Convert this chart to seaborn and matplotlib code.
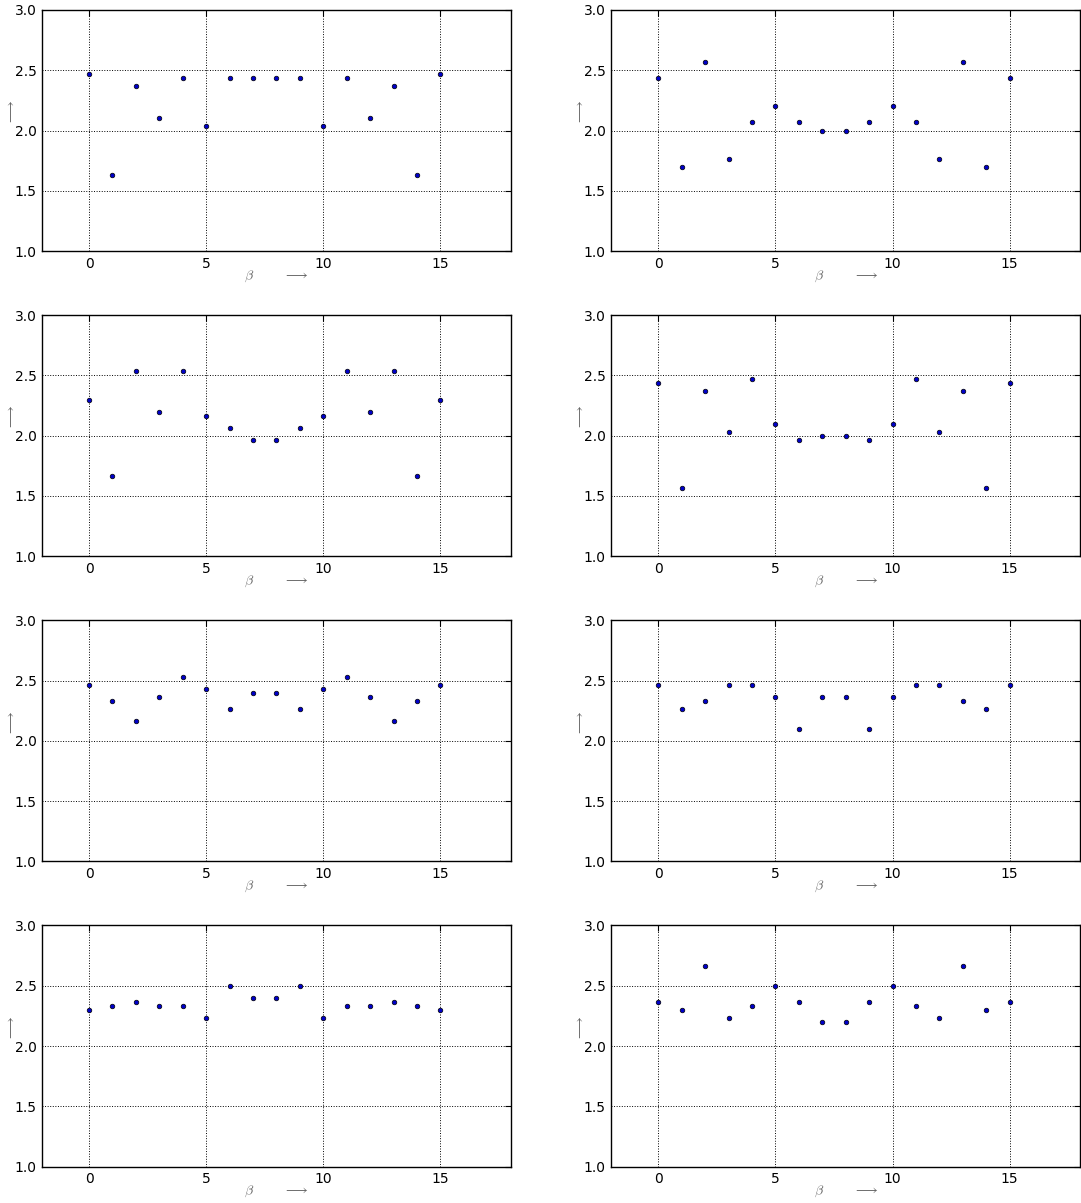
import matplotlib
matplotlib.use("Agg")
import matplotlib.pyplot as plt
import pandas as pd
import seaborn as sns

# Sample index along the horizontal axis
beta = list(range(16))

# One series per panel (row-major: left, right)
panel_1 = [2.4667, 1.6333, 2.3667, 2.1000, 2.4333, 2.0333, 2.4333, 2.4333,
           2.4333, 2.4333, 2.0333, 2.4333, 2.1000, 2.3667, 1.6333, 2.4667]
panel_2 = [2.4333, 1.7000, 2.5667, 1.7667, 2.0667, 2.2000, 2.0667, 2.0000,
           2.0000, 2.0667, 2.2000, 2.0667, 1.7667, 2.5667, 1.7000, 2.4333]
panel_3 = [2.3000, 1.6667, 2.5333, 2.2000, 2.5333, 2.1667, 2.0667, 1.9667,
           1.9667, 2.0667, 2.1667, 2.5333, 2.2000, 2.5333, 1.6667, 2.3000]
panel_4 = [2.4333, 1.5667, 2.3667, 2.0333, 2.4667, 2.1000, 1.9667, 2.0000,
           2.0000, 1.9667, 2.1000, 2.4667, 2.0333, 2.3667, 1.5667, 2.4333]
panel_5 = [2.4667, 2.3333, 2.1667, 2.3667, 2.5333, 2.4333, 2.2667, 2.4000,
           2.4000, 2.2667, 2.4333, 2.5333, 2.3667, 2.1667, 2.3333, 2.4667]
panel_6 = [2.4667, 2.2667, 2.3333, 2.4667, 2.4667, 2.3667, 2.1000, 2.3667,
           2.3667, 2.1000, 2.3667, 2.4667, 2.4667, 2.3333, 2.2667, 2.4667]
panel_7 = [2.3000, 2.3333, 2.3667, 2.3333, 2.3333, 2.2333, 2.5000, 2.4000,
           2.4000, 2.5000, 2.2333, 2.3333, 2.3333, 2.3667, 2.3333, 2.3000]
panel_8 = [2.3667, 2.3000, 2.6667, 2.2333, 2.3333, 2.5000, 2.3667, 2.2000,
           2.2000, 2.3667, 2.5000, 2.3333, 2.2333, 2.6667, 2.3000, 2.3667]

panels = [panel_1, panel_2, panel_3, panel_4, panel_5, panel_6, panel_7, panel_8]

x_ticks = [0, 5, 10, 15]
y_ticks = [1.0, 1.5, 2.0, 2.5, 3.0]
y_tick_labels = ["1.0", "1.5", "2.0", "2.5", "3.0"]

sns.set_theme(style="white")
plt.rcParams.update({
    "font.family": ["DejaVu Sans"],
    "font.size": 10,
    "mathtext.fontset": "cm",
    "xtick.direction": "in",
    "ytick.direction": "in",
    "xtick.top": True,
    "ytick.right": True,
    "xtick.major.size": 4,
    "ytick.major.size": 4,
    "xtick.major.width": 0.8,
    "ytick.major.width": 0.8,
    "xtick.color": "black",
    "ytick.color": "black",
    "xtick.labelsize": 10,
    "ytick.labelsize": 10,
    "axes.edgecolor": "black",
    "axes.linewidth": 1.0,
})

fig, axes = plt.subplots(4, 2, figsize=(10.81, 12.03), dpi=100)
fig.subplots_adjust(left=0.039, right=0.999, top=0.9917, bottom=0.0303,
                    wspace=0.215, hspace=0.266)

for ax, values in zip(axes.flat, panels):
    df = pd.DataFrame({"beta": beta, "value": values})
    sns.scatterplot(data=df, x="beta", y="value", ax=ax, color="#0000c8",
                    edgecolor="black", linewidth=0.5, s=11, zorder=3)
    ax.set_xlim(-2, 18)
    ax.set_ylim(1.0, 3.0)
    ax.set_xticks(x_ticks)
    ax.set_yticks(y_ticks)
    ax.set_yticklabels(y_tick_labels)
    ax.grid(True, linestyle=":", color="black", linewidth=0.7)
    ax.tick_params(axis="both", which="major", pad=4)
    ax.set_xlabel(r"$\beta$       $\longrightarrow$", color="#666666",
                  fontsize=10, labelpad=-1.5)
    ax.set_ylabel(r"$\longrightarrow$", color="#666666", fontsize=10)
    ax.yaxis.set_label_coords(-0.052, 0.575)
    for spine in ax.spines.values():
        spine.set_visible(True)
        spine.set_color("black")

fig.savefig("out.png", dpi=100)
